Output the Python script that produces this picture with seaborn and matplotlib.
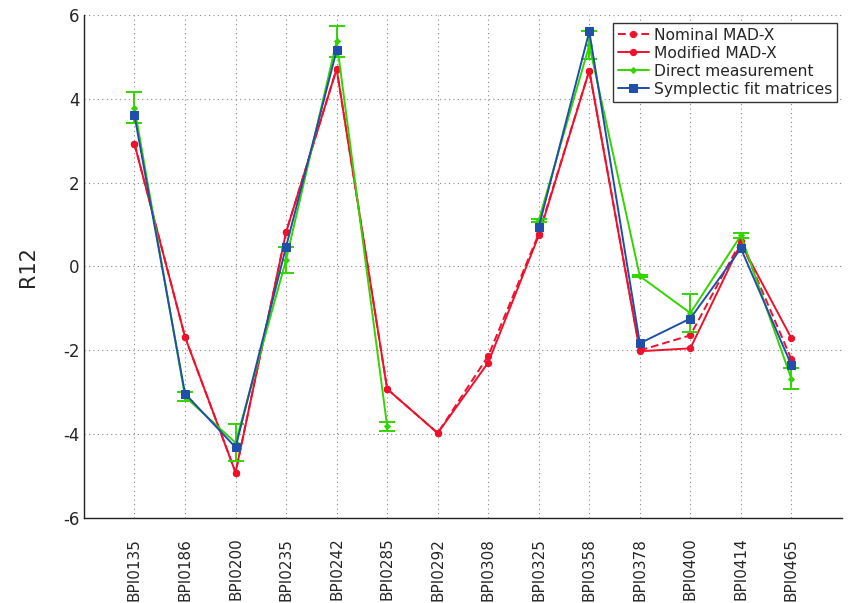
import numpy as np
import pandas as pd
import matplotlib
matplotlib.use("Agg")
import matplotlib.pyplot as plt
import seaborn as sns

bpms = ["BPI0135", "BPI0186", "BPI0200", "BPI0235", "BPI0242", "BPI0285", "BPI0292",
        "BPI0308", "BPI0325", "BPI0358", "BPI0378", "BPI0400", "BPI0414", "BPI0465"]
nominal = [2.92, -1.68, -4.91, 0.82, 4.71, -2.92, -3.97, -2.13, 0.78, 4.67, -2.00, -1.64, 0.60, -2.21]
modified = [2.92, -1.68, -4.91, 0.82, 4.71, -2.92, -3.97, -2.29, 0.74, 4.67, -2.02, -1.95, 0.55, -1.71]
direct = [3.78, -3.10, -4.20, 0.16, 5.37, -3.81, np.nan, np.nan, 1.10, 5.27, -0.23, -1.11, 0.74, -2.68]
direct_err = [0.37, 0.10, 0.44, 0.31, 0.37, 0.10, np.nan, np.nan, 0.03, 0.33, 0.03, 0.45, 0.06, 0.25]
symplectic = [3.60, -3.03, -4.31, 0.47, 5.15, np.nan, np.nan, np.nan, 0.94, 5.60, -1.83, -1.24, 0.43, -2.35]

RED = "#f0102c"
GREEN = "#33d400"
BLUE = "#1f4fa8"

sns.set_style("white")
plt.rcParams["font.family"] = ["DejaVu Sans"]

fig = plt.figure(figsize=(8.49, 6.03), dpi=100)
ax = fig.add_axes([0.0989, 0.1405, 0.8928, 0.8351])

pos = np.arange(1, len(bpms) + 1)


def segments(vals):
    seg = []
    s = 0
    prev_nan = False
    for v in vals:
        if np.isnan(v):
            prev_nan = True
            seg.append(-1)
        else:
            if prev_nan:
                s += 1
            prev_nan = False
            seg.append(s)
    return seg


def frame(vals):
    df = pd.DataFrame({"pos": pos, "val": vals, "seg": segments(vals)})
    return df[df["seg"] >= 0]


sns.lineplot(data=frame(nominal), x="pos", y="val", units="seg", estimator=None, ax=ax,
             color=RED, linestyle=(0, (4, 2)), linewidth=1.4, marker="o", markersize=4.5,
             markeredgecolor=RED, label="Nominal MAD-X", zorder=3)
sns.lineplot(data=frame(modified), x="pos", y="val", units="seg", estimator=None, ax=ax,
             color=RED, linestyle="-", linewidth=1.4, marker="o", markersize=4.5,
             markeredgecolor=RED, label="Modified MAD-X", zorder=3)
sns.lineplot(data=frame(direct), x="pos", y="val", units="seg", estimator=None, ax=ax,
             color=GREEN, linestyle="-", linewidth=1.4, marker="D", markersize=3,
             markeredgecolor=GREEN, label="Direct measurement", zorder=4)
ax.errorbar(pos, direct, yerr=direct_err, fmt="none", ecolor=GREEN, elinewidth=1.4,
            capsize=5.5, capthick=1.4, zorder=4)
sns.lineplot(data=frame(symplectic), x="pos", y="val", units="seg", estimator=None, ax=ax,
             color=BLUE, linestyle="-", linewidth=1.4, marker="s", markersize=5.5,
             markeredgecolor=BLUE, label="Symplectic fit matrices", zorder=5)

ax.set_xlim(0, 15)
ax.set_ylim(-6, 6)
ax.set_xticks(pos)
ax.set_xticklabels(bpms, rotation=90, va="top", fontsize=11)
ax.set_yticks([-6, -4, -2, 0, 2, 4, 6])
ax.set_yticklabels(["-6", "-4", "-2", "0", "2", "4", "6"], fontsize=12)
ax.set_xlabel("")
ax.set_ylabel("R12", fontsize=15, labelpad=18)

ax.grid(True, linestyle=(0, (1, 3)), color="#888888", linewidth=0.8)
ax.tick_params(axis="x", direction="in", length=5, color="#777777", pad=14)
ax.tick_params(axis="y", direction="in", length=5, color="#777777", pad=3)
for side in ["top", "right"]:
    ax.spines[side].set_visible(False)
for side in ["left", "bottom"]:
    ax.spines[side].set_color("#222222")
    ax.spines[side].set_linewidth(1.0)

handles, labels = ax.get_legend_handles_labels()
uniq = {}
for h, l in zip(handles, labels):
    if l not in uniq:
        uniq[l] = h
leg = ax.legend(list(uniq.values()), list(uniq.keys()), loc="upper right",
                bbox_to_anchor=(0.997, 0.99), fontsize=11.2,
                frameon=True, fancybox=False, edgecolor="#333333", framealpha=1,
                handlelength=2.0, handletextpad=0.3, borderpad=0.3, labelspacing=0.2,
                borderaxespad=0.2)
leg.get_frame().set_linewidth(1.0)

fig.savefig("out.png", dpi=100)
